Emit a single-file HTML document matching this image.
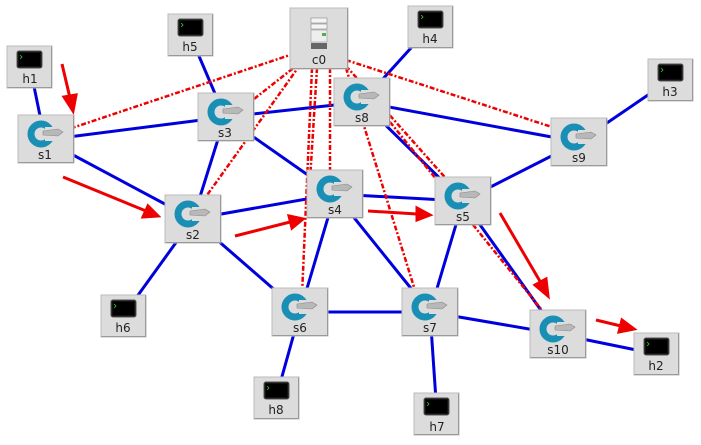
<!DOCTYPE html>
<html><head><meta charset="utf-8"><style>
html,body{margin:0;padding:0;background:#fff;}
svg{display:block;}
text{font-family:"DejaVu Sans","Liberation Sans",sans-serif;font-size:12px;fill:#222;text-anchor:middle;}
</style></head><body>
<svg width="701" height="445" viewBox="0 0 701 445" xmlns="http://www.w3.org/2000/svg">
<defs>
<g id="sw">
<rect x="0" y="0" width="56" height="48" fill="#dcdcdc" stroke="#bbb"/>
<path d="M0.5 47.5 H55.5 V0.5" fill="none" stroke="#9a9a9a"/>
<circle cx="23" cy="19" r="10" fill="none" stroke="#1a8fb5" stroke-width="7"/>
<rect x="27" y="12" width="12" height="14" fill="#dcdcdc"/>
<path d="M25 16 L40 14 L45 17 L40 21 L25 20 Z" fill="#b8b8b8" stroke="#888" stroke-width="0.6"/>
</g>
<g id="hs">
<rect x="0" y="0" width="45" height="42" fill="#dcdcdc" stroke="#bbb"/>
<path d="M0.5 41.5 H44.5 V0.5" fill="none" stroke="#9a9a9a"/>
<rect x="10" y="5" width="25" height="17" rx="2" fill="#111" stroke="#555"/>
<rect x="12" y="7" width="21" height="13" fill="#000"/>
<path d="M13 9 l2 2 -2 2" stroke="#3c3" stroke-width="0.8" fill="none"/>
</g>
</defs>
<g stroke="#0000dd" stroke-width="3" fill="none">
<line x1="30" y1="67" x2="45" y2="140"/>
<line x1="190" y1="35" x2="225" y2="117"/>
<line x1="45" y1="140" x2="225" y2="117"/>
<line x1="45" y1="140" x2="193" y2="219"/>
<line x1="225" y1="117" x2="362" y2="102"/>
<line x1="225" y1="117" x2="193" y2="219"/>
<line x1="225" y1="117" x2="335" y2="194"/>
<line x1="430" y1="27" x2="362" y2="102"/>
<line x1="362" y1="102" x2="579" y2="142"/>
<line x1="362" y1="102" x2="463" y2="201"/>
<line x1="670" y1="80" x2="579" y2="142"/>
<line x1="579" y1="142" x2="463" y2="201"/>
<line x1="193" y1="219" x2="335" y2="194"/>
<line x1="193" y1="219" x2="123" y2="316"/>
<line x1="193" y1="219" x2="300" y2="312"/>
<line x1="335" y1="194" x2="463" y2="201"/>
<line x1="335" y1="194" x2="300" y2="312"/>
<line x1="335" y1="194" x2="430" y2="312"/>
<line x1="463" y1="201" x2="430" y2="312"/>
<line x1="463" y1="201" x2="558" y2="334"/>
<line x1="300" y1="312" x2="430" y2="312"/>
<line x1="300" y1="312" x2="276" y2="398"/>
<line x1="430" y1="312" x2="437" y2="415"/>
<line x1="430" y1="312" x2="558" y2="334"/>
<line x1="558" y1="334" x2="656" y2="354"/>
</g>
<g stroke="#e00" stroke-width="2.5" fill="none" stroke-dasharray="5 2 2 2">
<line x1="305" y1="50" x2="60" y2="132"/>
<line x1="310" y1="55" x2="240" y2="110"/>
<line x1="300" y1="65" x2="200" y2="205"/>
<line x1="317" y1="68" x2="310" y2="180"/>
<line x1="330" y1="68" x2="330" y2="175"/>
<line x1="312" y1="68" x2="302" y2="295"/>
<line x1="346" y1="68" x2="418" y2="300"/>
<line x1="346" y1="60" x2="555" y2="128"/>
<line x1="346" y1="66" x2="450" y2="183"/>
<line x1="390" y1="122" x2="550" y2="320"/>
</g>
<g stroke="#e00" stroke-width="3" fill="#e00">
<line x1="62" y1="64" x2="70" y2="98"/><path d="M73 111 L64 97 L76 95 Z"/>
<line x1="63" y1="177" x2="146" y2="211"/><path d="M158 216 L143 217 L148 206 Z"/>
<line x1="235" y1="236" x2="290" y2="222"/><path d="M303 219 L292 228 L289 216 Z"/>
<line x1="368" y1="211" x2="417" y2="214"/><path d="M430 215 L417 220 L417 208 Z"/>
<line x1="500" y1="213" x2="541" y2="283"/><path d="M548 296 L535 285 L546 279 Z"/>
<line x1="596" y1="320" x2="621" y2="326"/><path d="M634 329 L619 332 L622 320 Z"/>
</g>
<g transform="translate(290,8)">
<rect width="58" height="61" fill="#dcdcdc" stroke="#bbb"/>
<path d="M0.5 60.5 H57.5 V0.5" fill="none" stroke="#9a9a9a"/>
<rect x="21" y="10" width="16" height="5" fill="#f4f4f4" stroke="#888" stroke-width="0.6"/>
<rect x="21" y="16" width="16" height="5" fill="#f4f4f4" stroke="#888" stroke-width="0.6"/>
<rect x="21" y="22" width="16" height="12" fill="#eee" stroke="#999" stroke-width="0.6"/>
<rect x="32" y="25" width="4" height="3" fill="#5a5"/>
<rect x="21" y="35" width="16" height="6" fill="#666"/>
<text x="29" y="56">c0</text>
</g>
<use href="#hs" x="7" y="46"/><text x="30" y="83">h1</text>
<use href="#hs" x="168" y="14"/><text x="190" y="51">h5</text>
<use href="#hs" x="408" y="6"/><text x="430" y="43">h4</text>
<use href="#hs" x="648" y="59"/><text x="670" y="96">h3</text>
<use href="#hs" x="101" y="295"/><text x="123" y="332">h6</text>
<use href="#hs" x="634" y="333"/><text x="656" y="370">h2</text>
<use href="#hs" x="254" y="377"/><text x="276" y="414">h8</text>
<use href="#hs" x="414" y="393"/><text x="437" y="431">h7</text>
<use href="#sw" x="18" y="115"/><text x="45" y="159">s1</text>
<use href="#sw" x="198" y="93"/><text x="225" y="137">s3</text>
<use href="#sw" x="334" y="78"/><text x="362" y="122">s8</text>
<use href="#sw" x="551" y="118"/><text x="579" y="162">s9</text>
<use href="#sw" x="165" y="195"/><text x="193" y="239">s2</text>
<use href="#sw" x="307" y="170"/><text x="335" y="214">s4</text>
<use href="#sw" x="435" y="177"/><text x="463" y="221">s5</text>
<use href="#sw" x="272" y="288"/><text x="300" y="332">s6</text>
<use href="#sw" x="402" y="288"/><text x="430" y="332">s7</text>
<use href="#sw" x="530" y="310"/><text x="558" y="354">s10</text>
</svg>
</body></html>
